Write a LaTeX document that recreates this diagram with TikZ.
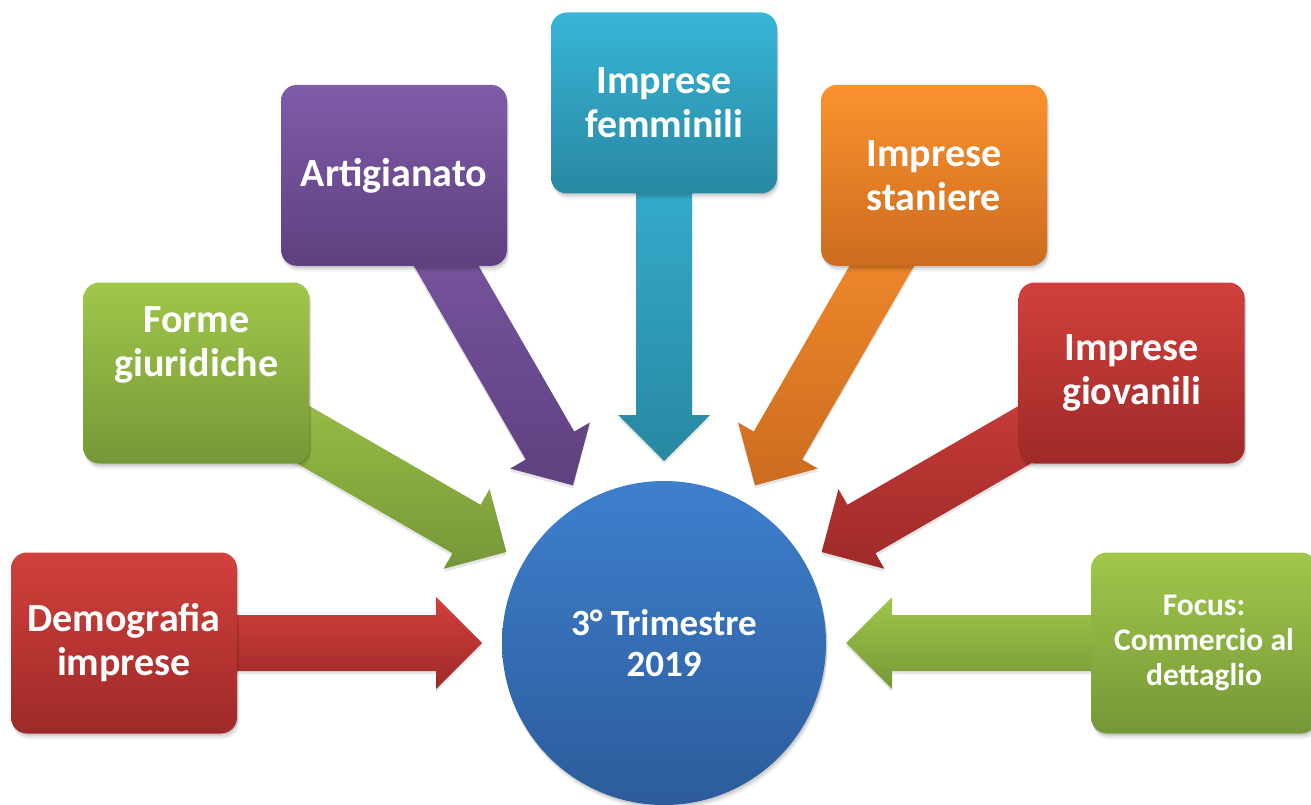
\documentclass[tikz,border=0pt]{standalone}
\usepackage{fontspec}
\setmainfont{Carlito}
\usetikzlibrary{calc,shadows}
\definecolor{redT}{RGB}{209,64,60}
\definecolor{redB}{RGB}{158,42,40}
\definecolor{grnT}{RGB}{161,199,74}
\definecolor{grnB}{RGB}{118,151,56}
\definecolor{purT}{RGB}{127,91,168}
\definecolor{purB}{RGB}{94,65,128}
\definecolor{tealT}{RGB}{56,181,215}
\definecolor{tealB}{RGB}{40,136,162}
\definecolor{orgT}{RGB}{252,146,46}
\definecolor{orgB}{RGB}{204,108,32}
\definecolor{bluT}{RGB}{62,127,205}
\definecolor{bluB}{RGB}{44,92,155}
\pgfdeclarelayer{bg}
\pgfsetlayers{bg,main}
\newcommand\radarrow[3]{%
  \coordinate (hb) at ($(ctr.center)!228pt!(#1.center)$);
  \shade[top color=#2,bottom color=#3,
    preaction={fill=black,fill opacity=.10,transform canvas={yshift=-3pt}}]
    ($(#1.center)!28pt!90:(ctr.center)$) -- ($(hb)!28pt!90:(ctr.center)$)
    -- ($(hb)!46pt!90:(ctr.center)$) -- ($(ctr.center)!182pt!(#1.center)$)
    -- ($(hb)!46pt!-90:(ctr.center)$) -- ($(hb)!28pt!-90:(ctr.center)$)
    -- ($(#1.center)!28pt!-90:(ctr.center)$) -- cycle;}
\tikzset{
  softshadow/.style={
    general shadow={shadow yshift=-2pt,shadow xshift=1pt,fill=black,opacity=.10},
    general shadow={shadow yshift=-4pt,shadow xshift=1.5pt,fill=black,opacity=.07},
    general shadow={shadow yshift=-6pt,shadow xshift=2pt,fill=black,opacity=.04}},
  box/.style={rectangle,rounded corners=16pt,minimum width=226pt,minimum height=181pt,
    inner sep=0pt,text=white,align=center,softshadow,
    font=\fontsize{40pt}{44pt}\selectfont\bfseries},
  boxtext/.style={text=white,align=center,inner sep=0pt,
    font=\fontsize{40pt}{44pt}\selectfont\bfseries},
  redbox/.style={top color=redT,bottom color=redB},
  grnbox/.style={top color=grnT,bottom color=grnB},
  purbox/.style={top color=purT,bottom color=purB},
  tealbox/.style={top color=tealT,bottom color=tealB},
  orgbox/.style={top color=orgT,bottom color=orgB},
}
\begin{document}
\begin{tikzpicture}[x=1pt,y=-1pt]
\useasboundingbox (0,0) rectangle (1311,805);
\node[circle,minimum size=324pt,inner sep=0pt,top color=bluT,bottom color=bluB,
  text=white,align=center,softshadow,font=\fontsize{37pt}{41pt}\selectfont\bfseries]
  (ctr) at (664,643) {3° Trimestre\\2019};
\node[box,redbox]  (b1) at (124,643) {Demografia\\imprese};
\node[box,grnbox]  (b2) at (196.35,373) {};
\node[boxtext]     (t2) at (196.35,345) {Forme\\giuridiche};
\node[box,purbox]  (b3) at (394,175.35) {Artigianato};
\node[box,tealbox] (b4) at (664,103) {Imprese\\femminili};
\node[box,orgbox]  (b5) at (934,175.35) {Imprese\\staniere};
\node[box,redbox]  (b6) at (1131.65,373) {Imprese\\giovanili};
\node[box,grnbox,font=\fontsize{31.5pt}{35pt}\selectfont\bfseries]
  (b7) at (1204,643) {Focus:\\Commercio al\\dettaglio};
\begin{pgfonlayer}{bg}
  \radarrow{b1}{redT}{redB}
  \radarrow{b2}{grnT}{grnB}
  \radarrow{b3}{purT}{purB}
  \radarrow{b4}{tealT}{tealB}
  \radarrow{b5}{orgT}{orgB}
  \radarrow{b6}{redT}{redB}
  \radarrow{b7}{grnT}{grnB}
\end{pgfonlayer}
\end{tikzpicture}
\end{document}
